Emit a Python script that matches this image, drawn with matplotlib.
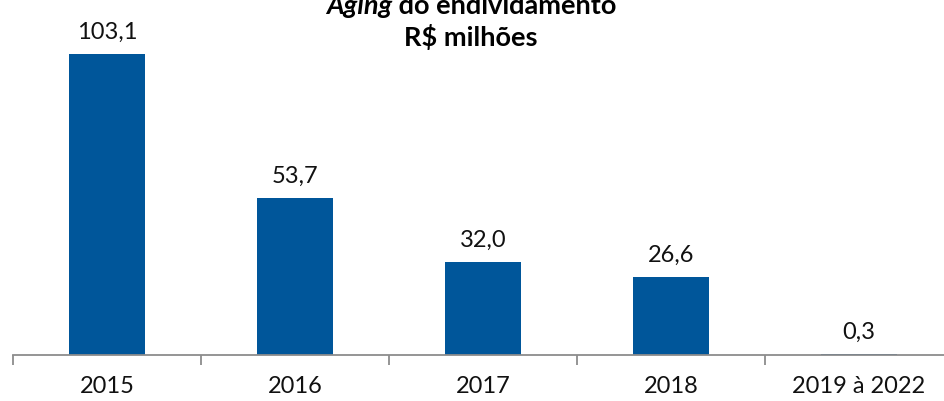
import numpy as np
import matplotlib
matplotlib.use("Agg")
import matplotlib.pyplot as plt

categories = ["2015", "2016", "2017", "2018", "2019 à 2022"]
values = [103.1, 53.7, 32.0, 26.6, 0.3]
value_labels = ["103,1", "53,7", "32,0", "26,6", "0,3"]

plt.rcParams['font.family'] = ['Lato', 'DejaVu Sans']

W, H = 944, 401
fig = plt.figure(figsize=(W / 100, H / 100), dpi=100)
# axes runs a bit past the right edge, like the cropped original
ax = fig.add_axes([13 / W, 46 / H, 940 / W, 335 / H])

x = np.arange(len(categories))
ax.bar(x, values, width=0.40, color="#00569a", zorder=2)
ax.set_xlim(-0.5, len(categories) - 0.5)
ax.set_ylim(0, 335 / 2.92)

for xi, v, lab in zip(x, values, value_labels):
    ax.annotate(lab, (xi, v), xytext=(0, 8), textcoords="offset points",
                ha="center", va="bottom", fontsize=17, color="#111111")

for s in ["top", "right", "left"]:
    ax.spines[s].set_visible(False)
ax.spines["bottom"].set_color("#8c8c8c")
ax.spines["bottom"].set_linewidth(1.3)
ax.set_yticks([])
ax.set_xticks(x)
ax.set_xticklabels(categories, fontsize=17, color="#111111")
ax.tick_params(axis="x", which="major", length=0, pad=15)
ax.set_xticks(np.arange(-0.5, len(categories)), minor=True)
ax.tick_params(axis="x", which="minor", length=7, width=1.3, color="#8c8c8c", direction="out")

# title: "Aging" bold italic, rest bold (top line is cropped in the original)
cx = 471 / W
fs_t = 19.5
t1 = fig.text(0, 1 - 14 / H, "Aging", fontsize=fs_t, fontweight="bold", style="italic", va="baseline")
t2 = fig.text(0, 1 - 14 / H, " do endividamento", fontsize=fs_t, fontweight="bold", va="baseline")
fig.canvas.draw()
r = fig.canvas.get_renderer()
w1 = t1.get_window_extent(r).width / W
w2 = t2.get_window_extent(r).width / W
start = cx - (w1 + w2) / 2
t1.set_x(start)
t2.set_x(start + w1)
fig.text(cx, 1 - 46 / H, "R$ milhões", fontsize=fs_t, fontweight="bold", ha="center", va="baseline")

fig.savefig("out.png", dpi=100)
